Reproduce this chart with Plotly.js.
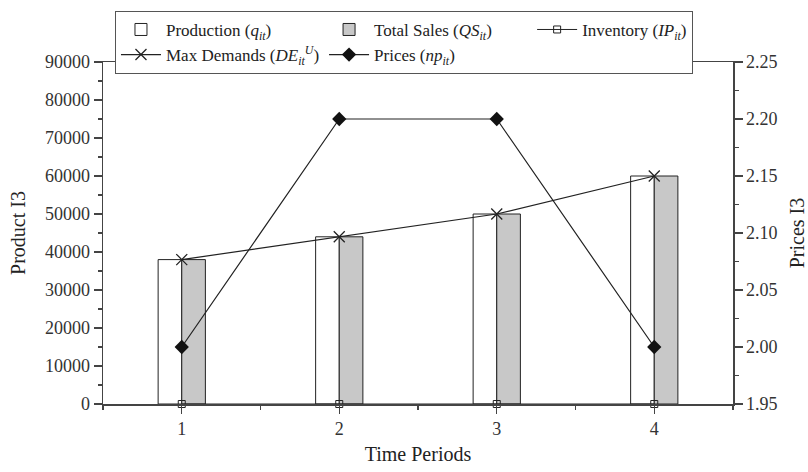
<!DOCTYPE html>
<html>
<head>
<meta charset="utf-8">
<script src="https://cdn.plot.ly/plotly-3.0.1.min.js"></script>
<style>html,body{margin:0;padding:0;background:#fff;}#chart{width:808px;height:472px;}</style>
</head>
<body>
<div id="chart"></div>
<script>
const periods = [1, 2, 3, 4];
const production = [38000, 44000, 50000, 60000];
const totalSales = [38000, 44000, 50000, 60000];
const inventory = [0, 0, 0, 0];
const maxDemands = [38000, 44000, 50000, 60000];
const prices = [2.00, 2.20, 2.20, 2.00];

const FONT = '"Liberation Serif", "Times New Roman", serif';
const AX = '#444';

const traces = [
  {type: 'bar', x: periods, y: production, name: 'Production (<i>q</i><sub><i>it</i></sub>)',
   marker: {color: '#ffffff', line: {color: '#222', width: 1}}, yaxis: 'y'},
  {type: 'bar', x: periods, y: totalSales, name: 'Total Sales (<i>QS</i><sub><i>it</i></sub>)',
   marker: {color: '#c8c8c8', line: {color: '#222', width: 1}}, yaxis: 'y'},
  {type: 'scatter', mode: 'lines+markers', x: periods, y: inventory, name: 'Inventory (<i>IP</i><sub><i>it</i></sub>)',
   line: {color: '#222', width: 1}, marker: {symbol: 'square-open', size: 7, color: '#222', line: {width: 1}}, yaxis: 'y', cliponaxis: false},
  {type: 'scatter', mode: 'lines+markers', x: periods, y: maxDemands, name: 'Max Demands (<i>DE</i><sub><i>it</i></sub><sup><i>U</i></sup>)',
   line: {color: '#222', width: 1.2}, marker: {symbol: 'x-thin-open', size: 11, color: '#222', line: {width: 1.3, color: '#222'}}, yaxis: 'y'},
  {type: 'scatter', mode: 'lines+markers', x: periods, y: prices, name: 'Prices (<i>np</i><sub><i>it</i></sub>)',
   line: {color: '#222', width: 1.2}, marker: {symbol: 'diamond', size: 11, color: '#111'}, yaxis: 'y2'}
];

const tickFont = {family: FONT, size: 18, color: '#333'};
const titleFont = {family: FONT, size: 20, color: '#222'};

const layout = {
  width: 808, height: 472,
  margin: {l: 103, r: 75, t: 61, b: 68},
  paper_bgcolor: '#fff', plot_bgcolor: '#fff',
  font: {family: FONT, size: 16, color: '#222'},
  barmode: 'group', bargap: 0.7, bargroupgap: 0,
  showlegend: true,
  legend: {orientation: 'h', x: 0.019, y: 1.146, xanchor: 'left', yanchor: 'top',
           bgcolor: '#fff', bordercolor: '#555', borderwidth: 1,
           font: {family: FONT, size: 17, color: '#222'}, traceorder: 'normal', itemwidth: 40},
  xaxis: {range: [0.5, 4.5], tickvals: periods, ticktext: ['1', '2', '3', '4'],
          showgrid: false, zeroline: false, showline: true, linecolor: AX, linewidth: 1.5,
          mirror: true, ticks: 'outside', ticklen: 8, tickcolor: AX, tickwidth: 1.2,
          minor: {ticks: 'outside', dtick: 0.5, tick0: 0.5, ticklen: 4, tickcolor: AX, showgrid: false},
          tickfont: tickFont,
          title: {text: 'Time Periods', font: titleFont, standoff: 9}},
  yaxis: {range: [0, 90000], dtick: 10000, tickformat: 'd',
          showgrid: false, zeroline: false, showline: true, linecolor: AX, linewidth: 1.5,
          ticks: 'outside', ticklen: 8, tickcolor: AX, tickwidth: 1.2,
          minor: {ticks: 'outside', dtick: 5000, ticklen: 4, tickcolor: AX, showgrid: false},
          tickfont: tickFont,
          title: {text: 'Product I3', font: titleFont, standoff: 14}},
  yaxis2: {overlaying: 'y', side: 'right', range: [1.95, 2.25], dtick: 0.05, tickformat: '.2f',
           showgrid: false, zeroline: false, showline: true, linecolor: AX, linewidth: 1.5,
           ticks: 'outside', ticklen: 8, tickcolor: AX, tickwidth: 1.2,
           minor: {ticks: 'outside', dtick: 0.025, ticklen: 4, tickcolor: AX, showgrid: false},
           tickfont: tickFont,
           title: {text: 'Prices I3', font: titleFont, standoff: 14}}
};

Plotly.newPlot('chart', traces, layout, {displayModeBar: false, staticPlot: true});
</script>
</body>
</html>
